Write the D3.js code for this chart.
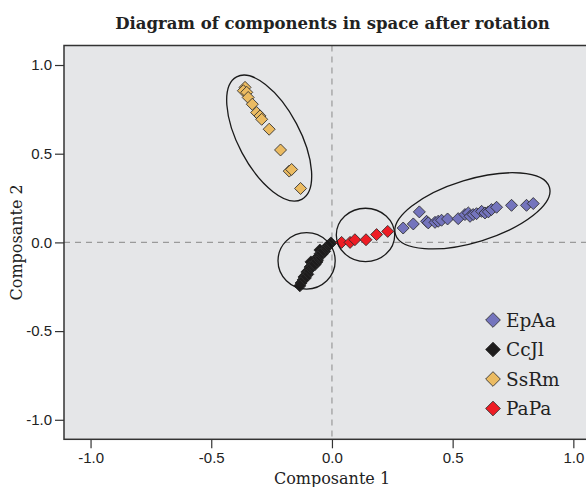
<!DOCTYPE html>
<html>
<head>
<meta charset="utf-8">
<script src="https://cdn.jsdelivr.net/npm/d3@7"></script>
<style>
  body { margin: 0; background: #fff; }
  svg { display: block; }
  .tick text { font-family: "Liberation Sans Narrow", "Liberation Sans", Arial, sans-serif; font-size: 15px; fill: #222; }
  .tick line { stroke: #333; stroke-width: 1.2; }
</style>
</head>
<body>
<svg id="chart" width="586" height="487"></svg>
<script>
// component loadings: [composante 1, composante 2]
const epAa = [
  [0.295, 0.081], [0.337, 0.104], [0.362, 0.172], [0.392, 0.119], [0.399, 0.110],
  [0.427, 0.113], [0.440, 0.119], [0.454, 0.125], [0.479, 0.132], [0.523, 0.134],
  [0.551, 0.157], [0.565, 0.166], [0.572, 0.147], [0.585, 0.157], [0.599, 0.162],
  [0.620, 0.175], [0.634, 0.166], [0.648, 0.172], [0.661, 0.185], [0.682, 0.198],
  [0.744, 0.209], [0.806, 0.209], [0.834, 0.219]
];
const ccJl = [
  [-0.004, -0.003], [-0.008, -0.009], [-0.017, -0.020], [-0.029, -0.037], [-0.050, -0.043],
  [-0.030, -0.050], [-0.037, -0.054], [-0.040, -0.065], [-0.050, -0.065], [-0.058, -0.082],
  [-0.066, -0.094], [-0.060, -0.100], [-0.062, -0.110], [-0.075, -0.110], [-0.087, -0.110],
  [-0.070, -0.125], [-0.079, -0.127], [-0.091, -0.139], [-0.085, -0.140], [-0.095, -0.156],
  [-0.098, -0.160], [-0.104, -0.167], [-0.100, -0.180], [-0.108, -0.184], [-0.116, -0.195],
  [-0.110, -0.200], [-0.120, -0.212], [-0.128, -0.229], [-0.133, -0.245]
];
const ssRm = [
  [-0.360, 0.874], [-0.367, 0.855], [-0.353, 0.846], [-0.347, 0.817], [-0.330, 0.779],
  [-0.312, 0.732], [-0.298, 0.713], [-0.291, 0.694], [-0.260, 0.638], [-0.213, 0.521],
  [-0.177, 0.402], [-0.167, 0.411], [-0.130, 0.304]
];
const paPa = [
  [0.040, 0.000], [0.075, 0.000], [0.095, 0.015], [0.141, 0.015], [0.185, 0.044], [0.231, 0.062]
];
const seriesNames = ["EpAa", "CcJl", "SsRm", "PaPa"];
const seriesColors = ["#7474bd", "#1e1c1c", "#ebbb62", "#ee1c24"];
const ticks = [-1.0, -0.5, 0.0, 0.5, 1.0];

// hand-drawn grouping ellipses (centre in data units, semi-axes in px)
const groups = [
  { cx: 0.582, cy: 0.178, a: 80.5, b: 31.3, angle: -17 },
  { cx: -0.105, cy: -0.104, a: 28.6, b: 28.2, angle: 0 },
  { cx: -0.260, cy: 0.588, a: 69.4, b: 30.9, angle: 62 },
  { cx: 0.139, cy: 0.042, a: 29.2, b: 26.7, angle: 0 }
];

const svg = d3.select("#chart");
const plot = { left: 64, top: 45.5, right: 590, bottom: 439.3 };

const x = d3.scaleLinear().domain([-1.11, 1.069]).range([plot.left, plot.right]);
const y = d3.scaleLinear().domain([-1.11, 1.11]).range([plot.bottom, plot.top]);

// plain hyphen for negatives, like the original
const fmt = d => d3.format(".1f")(d).replace("\u2212", "-");

svg.append("rect")
  .attr("x", plot.left).attr("y", plot.top)
  .attr("width", plot.right - plot.left).attr("height", plot.bottom - plot.top)
  .attr("fill", "#e5e6e8");

// reference lines at 0
svg.append("line")
  .attr("x1", x(0)).attr("x2", x(0)).attr("y1", plot.top).attr("y2", plot.bottom)
  .attr("stroke", "#9a9a9a").attr("stroke-width", 1.2).attr("stroke-dasharray", "6,5");
svg.append("line")
  .attr("x1", plot.left).attr("x2", plot.right).attr("y1", y(0)).attr("y2", y(0))
  .attr("stroke", "#9a9a9a").attr("stroke-width", 1.2).attr("stroke-dasharray", "6,5");

const diamond = size => d3.symbol(d3.symbolSquare, size)();

const series = [epAa, ccJl, ssRm, paPa];
series.forEach((pts, i) => {
  svg.append("g").selectAll("path")
    .data(pts)
    .enter().append("path")
      .attr("d", diamond(72))
      .attr("transform", d => `translate(${x(d[0])},${y(d[1])}) rotate(45)`)
      .attr("fill", seriesColors[i])
      .attr("stroke", "#2a2a2a")
      .attr("stroke-width", 0.8);
});

svg.append("g").selectAll("ellipse")
  .data(groups)
  .enter().append("ellipse")
    .attr("rx", d => d.a).attr("ry", d => d.b)
    .attr("transform", d => `translate(${x(d.cx)},${y(d.cy)}) rotate(${d.angle})`)
    .attr("fill", "none")
    .attr("stroke", "#1a1a1a")
    .attr("stroke-width", 1.3);

// frame
svg.append("rect")
  .attr("x", plot.left).attr("y", plot.top)
  .attr("width", plot.right - plot.left).attr("height", plot.bottom - plot.top)
  .attr("fill", "none").attr("stroke", "#333").attr("stroke-width", 1.5);

const xAxis = svg.append("g")
  .attr("transform", `translate(0,${plot.bottom})`)
  .call(d3.axisBottom(x).tickValues(ticks).tickFormat(fmt).tickSize(9).tickSizeOuter(0).tickPadding(4));
xAxis.select(".domain").remove();

const yAxis = svg.append("g")
  .attr("transform", `translate(${plot.left},0)`)
  .call(d3.axisLeft(y).tickValues(ticks).tickFormat(fmt).tickSize(9).tickSizeOuter(0).tickPadding(3));
yAxis.select(".domain").remove();

// titles
svg.append("text")
  .attr("x", 332.5).attr("y", 29)
  .attr("text-anchor", "middle")
  .attr("font-family", "'DejaVu Serif', serif")
  .attr("font-weight", "bold")
  .attr("font-size", 16.5)
  .attr("fill", "#222")
  .text("Diagram of components in space after rotation");

svg.append("text")
  .attr("x", 332).attr("y", 484)
  .attr("text-anchor", "middle")
  .attr("font-family", "'DejaVu Serif', serif")
  .attr("font-size", 16)
  .attr("fill", "#222")
  .text("Composante 1");

svg.append("text")
  .attr("transform", `translate(22,${(plot.top + plot.bottom) / 2}) rotate(-90)`)
  .attr("text-anchor", "middle")
  .attr("font-family", "'DejaVu Serif', serif")
  .attr("font-size", 16)
  .attr("fill", "#222")
  .text("Composante 2");

// legend
const legend = svg.append("g").attr("transform", "translate(493,320)");
const item = legend.selectAll("g")
  .data(seriesNames)
  .enter().append("g")
    .attr("transform", (d, i) => `translate(0,${i * 29.5})`);
item.append("path")
  .attr("d", diamond(108))
  .attr("transform", "rotate(45)")
  .attr("fill", (d, i) => seriesColors[i])
  .attr("stroke", "#2a2a2a")
  .attr("stroke-width", 0.8);
item.append("text")
  .attr("x", 13).attr("y", 6.5)
  .attr("font-family", "'DejaVu Serif', serif")
  .attr("font-size", 18.5)
  .attr("fill", "#222")
  .text(d => d);
</script>
</body>
</html>
